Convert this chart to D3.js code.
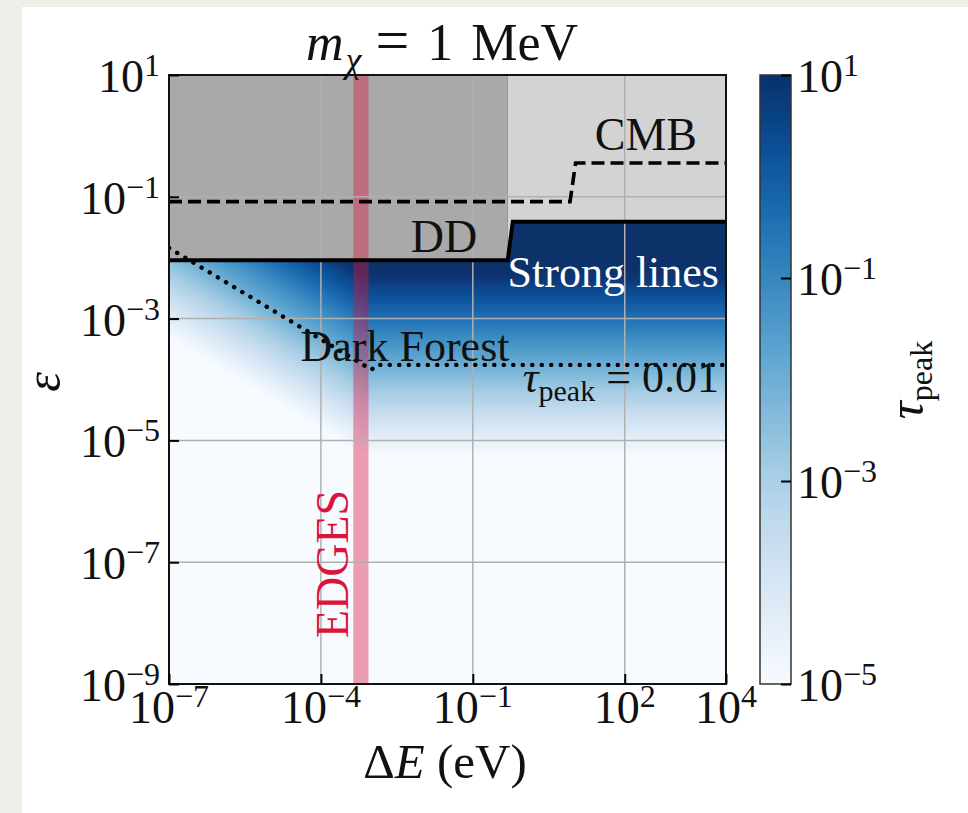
<!DOCTYPE html>
<html>
<head>
<meta charset="utf-8">
<script src="https://cdn.jsdelivr.net/npm/d3@7"></script>
<style>
  body { margin: 0; background: #efede8; }
  svg { display: block; }
  text { font-family: "Liberation Serif", "DejaVu Serif", serif; fill: #111; }
</style>
</head>
<body>
<script>
// all values are log10 exponents
const xTicks = [-7, -4, -1, 2, 4];
const xGrid = [-4, -1, 2];
const yTicks = [1, -1, -3, -5, -7, -9];
const yGrid = [-1, -3, -5, -7];
const cbTicks = [1, -1, -3, -5];

// tau_peak contours: level, eps where it is crossed at dE = 1e-7 and right of the knee
const tauLevels = [-5, -4.75, -4.5, -4.25, -4, -3.75, -3.5, -3.25, -3, -2.75, -2.5, -2.25, -2,
                   -1.75, -1.5, -1.25, -1, -0.75, -0.5, -0.25, 0, 0.25, 0.5, 0.75, 1];
const epsAtLeft = [-3.31, -3.19, -3.06, -2.94, -2.81, -2.69, -2.56, -2.44, -2.31, -2.19, -2.06, -1.94, -1.81,
                   -1.69, -1.56, -1.44, -1.31, -1.19, -1.06, -0.94, -0.81, -0.69, -0.56, -0.44, -0.31];
const epsAtKnee = [-5.26, -5.14, -5.01, -4.89, -4.76, -4.64, -4.51, -4.39, -4.26, -4.14, -4.01, -3.89, -3.76,
                   -3.64, -3.51, -3.39, -3.26, -3.14, -3.01, -2.89, -2.76, -2.64, -2.51, -2.39, -2.26];
const kneeE = -3.1;

const ddLine = [[-7, -2.04], [-0.31, -2.04], [-0.21, -1.41], [4, -1.41]];
const cmbLine = [[-7, -1.08], [0.92, -1.08], [1.03, -0.445], [4, -0.445]];
const forestLine = [[-7, -1.84], [-3.0, -3.84], [-2.9, -3.76], [4, -3.76]];
const edgesBand = [-3.36, -3.06];

const W = 968, H = 813;
const L = 169, R = 726, T = 75, B = 684;

const x = d3.scaleLog().domain([1e-7, 1e4]).range([L, R]);
const y = d3.scaleLog().domain([1e-9, 1e1]).range([B, T]);
const cb = d3.scaleLog().domain([1e-5, 1e1]).range([B, T]);
const px = e => x(Math.pow(10, e));
const py = e => y(Math.pow(10, e));
const blue = lt => d3.interpolateBlues(Math.max(0, Math.min(1, (lt + 5) / 6)));

const svg = d3.select("body").append("svg").attr("width", W).attr("height", H);
svg.append("rect").attr("x", 22).attr("y", 7).attr("width", W - 22).attr("height", H - 7).attr("fill", "#fff");

const defs = svg.append("defs");
defs.append("clipPath").attr("id", "plot")
  .append("rect").attr("x", L).attr("y", T).attr("width", R - L).attr("height", B - T);
defs.append("filter").attr("id", "soft").attr("x", "-5%").attr("y", "-5%").attr("width", "110%").attr("height", "110%")
  .append("feGaussianBlur").attr("stdDeviation", 2.5);

const g = svg.append("g").attr("clip-path", "url(#plot)");
const line = d3.line().x(d => px(d[0])).y(d => py(d[1]));

// heatmap as filled contour bands (drawn a little past the frame so the softening has no edge)
const heat = g.append("g").attr("filter", "url(#soft)");
heat.append("rect").attr("x", L - 20).attr("y", T - 20).attr("width", R - L + 40).attr("height", B - T + 40)
  .attr("fill", blue(-6));
tauLevels.forEach((lv, i) => {
  const poly = [[-7.4, epsAtLeft[i]], [-7, epsAtLeft[i]], [kneeE, epsAtKnee[i]], [4.4, epsAtKnee[i]], [4.4, 1.4], [-7.4, 1.4]];
  heat.append("path").attr("d", line(poly) + "Z").attr("fill", blue(lv + 0.125));
});

// excluded regions
const split = ddLine[1][0];
g.append("path")
  .attr("d", line([[-7, ddLine[0][1]], [split, ddLine[1][1]], [split, 1], [-7, 1]]) + "Z")
  .attr("fill", "#a9a9a9");
g.append("path")
  .attr("d", line([ddLine[1], ddLine[2], ddLine[3], [4, 1], [split, 1]]) + "Z")
  .attr("fill", "#d3d3d3");

// EDGES band
g.append("rect")
  .attr("x", px(edgesBand[0])).attr("width", px(edgesBand[1]) - px(edgesBand[0]))
  .attr("y", T).attr("height", B - T)
  .attr("fill", "crimson").attr("fill-opacity", 0.4);

// grid
g.append("g").selectAll("line").data(xGrid).join("line")
  .attr("x1", d => px(d)).attr("x2", d => px(d)).attr("y1", T).attr("y2", B)
  .attr("stroke", "#b0b0b0").attr("stroke-width", 1.5);
g.append("g").selectAll("line").data(yGrid).join("line")
  .attr("y1", d => py(d)).attr("y2", d => py(d)).attr("x1", L).attr("x2", R)
  .attr("stroke", "#b0b0b0").attr("stroke-width", 1.5);

// limit lines
g.append("path").attr("d", line(ddLine)).attr("fill", "none").attr("stroke", "#000").attr("stroke-width", 4);
g.append("path").attr("d", line(cmbLine)).attr("fill", "none").attr("stroke", "#000").attr("stroke-width", 3.6)
  .attr("stroke-dasharray", "13,6");
g.append("path").attr("d", line(forestLine)).attr("fill", "none").attr("stroke", "#000").attr("stroke-width", 4.4)
  .attr("stroke-linecap", "round").attr("stroke-dasharray", "0.1,9.4");

// in-plot labels
const fs = 46;
svg.append("text").attr("x", 697).attr("y", 150).attr("text-anchor", "end").attr("font-size", fs).text("CMB");
svg.append("text").attr("x", 444).attr("y", 252).attr("text-anchor", "middle").attr("font-size", fs).text("DD");
svg.append("text").attr("x", 719).attr("y", 287).attr("text-anchor", "end").attr("font-size", 44)
  .style("fill", "#fff").text("Strong lines");
svg.append("text").attr("x", 405).attr("y", 361).attr("text-anchor", "middle").attr("font-size", 44).text("Dark Forest");
const tp = svg.append("text").attr("x", 719).attr("y", 392).attr("text-anchor", "end").attr("font-size", 44);
tp.append("tspan").attr("font-style", "italic").text("τ");
tp.append("tspan").attr("font-size", 30).attr("dy", 9).text("peak");
tp.append("tspan").attr("dy", -9).text(" = 0.01");
svg.append("text").attr("transform", "translate(348,564) rotate(-90)").attr("text-anchor", "middle")
  .attr("font-size", fs).style("fill", "crimson").text("EDGES");

// frame and ticks
svg.append("rect").attr("x", L).attr("y", T).attr("width", R - L).attr("height", B - T)
  .attr("fill", "none").attr("stroke", "#111").attr("stroke-width", 2);

const xAxis = d3.axisBottom(x).tickValues(xTicks.map(e => Math.pow(10, e))).tickSize(-10).tickFormat("");
const gx = svg.append("g").attr("transform", `translate(0,${B})`).call(xAxis);
const yAxis = d3.axisLeft(y).tickValues(yTicks.map(e => Math.pow(10, e))).tickSize(-10).tickFormat("");
const gy = svg.append("g").attr("transform", `translate(${L},0)`).call(yAxis);
[gx, gy].forEach(a => {
  a.select(".domain").remove();
  a.selectAll(".tick line").attr("stroke", "#000").attr("stroke-width", 2);
});

function pow10(sel, e) {
  sel.append("tspan").text("10");
  sel.append("tspan").attr("font-size", 32).attr("dy", -16).text(String(e).replace("-", "−"));
}

svg.append("g").selectAll("text").data(xTicks).join("text")
  .attr("x", d => px(d)).attr("y", 723).attr("text-anchor", "middle").attr("font-size", fs)
  .each(function(d) { pow10(d3.select(this), d); });
svg.append("g").selectAll("text").data(yTicks).join("text")
  .attr("x", 160).attr("y", d => py(d) + 17).attr("text-anchor", "end").attr("font-size", fs)
  .each(function(d) { pow10(d3.select(this), d); });

// colorbar
const grad = defs.append("linearGradient").attr("id", "cbar").attr("x1", 0).attr("x2", 0).attr("y1", 1).attr("y2", 0);
d3.range(0, 1.0001, 0.02).forEach(t => grad.append("stop").attr("offset", t).attr("stop-color", d3.interpolateBlues(t)));
svg.append("rect").attr("x", 760).attr("y", T).attr("width", 31).attr("height", B - T)
  .attr("fill", "url(#cbar)").attr("stroke", "#333").attr("stroke-width", 1.5);
const cAxis = d3.axisRight(cb).tickValues(cbTicks.map(e => Math.pow(10, e))).tickSize(-10).tickFormat("");
const gc = svg.append("g").attr("transform", "translate(791,0)").call(cAxis);
gc.select(".domain").remove();
gc.selectAll(".tick line").attr("stroke", "#000").attr("stroke-width", 2);
svg.append("g").selectAll("text").data(cbTicks).join("text")
  .attr("x", 797).attr("y", d => cb(Math.pow(10, d)) + 17).attr("font-size", fs)
  .each(function(d) { pow10(d3.select(this), d); });

// axis titles
const title = svg.append("text").attr("x", 306).attr("y", 60).attr("font-size", 52);
title.append("tspan").attr("font-style", "italic").text("m");
title.append("tspan").attr("font-style", "italic").attr("font-size", 36).attr("dy", 12).attr("dx", 2).text("χ");
title.append("tspan").attr("dy", -12).attr("dx", 14).attr("font-size", 60).text("=");
title.append("tspan").attr("dx", 18).text("1");
title.append("tspan").attr("dx", 18).text("MeV");

const xl = svg.append("text").attr("x", 445).attr("y", 778).attr("text-anchor", "middle").attr("font-size", 49);
xl.append("tspan").text("Δ");
xl.append("tspan").attr("font-style", "italic").text("E");
xl.append("tspan").text(" (eV)");

svg.append("text").attr("transform", "translate(60,382) rotate(-90)").attr("text-anchor", "middle")
  .attr("font-size", 50).attr("font-style", "italic").text("ε");

const cl = svg.append("text").attr("transform", "translate(923,380) rotate(-90)").attr("text-anchor", "middle")
  .attr("font-size", 50);
cl.append("tspan").attr("font-style", "italic").text("τ");
cl.append("tspan").attr("font-size", 32).attr("dy", 9).text("peak");
</script>
</body>
</html>
